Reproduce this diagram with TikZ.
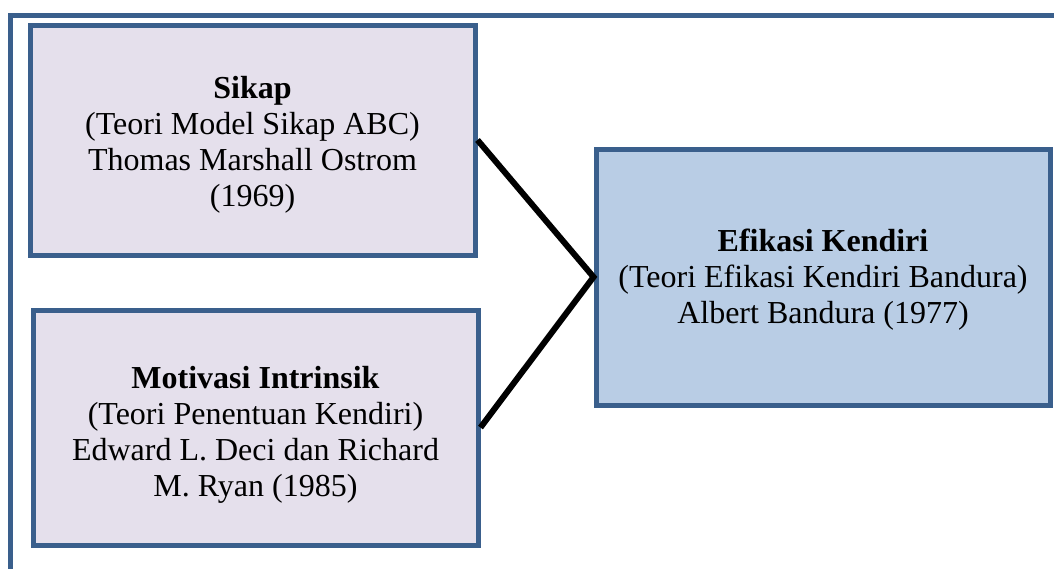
\documentclass[tikz,border=0pt]{standalone}
\usepackage{fontspec}
\setmainfont{Liberation Serif}
\definecolor{frameblue}{HTML}{3A5F8C}
\definecolor{lavender}{HTML}{E5E0EC}
\definecolor{lightblue}{HTML}{B9CDE5}
\begin{document}
\begin{tikzpicture}[x=1pt,y=-1pt,
  box/.style={draw=frameblue, line width=5pt, rectangle, inner sep=0pt},
  label/.style={align=center, inner sep=0pt, font=\fontsize{32}{36}\selectfont, text=black},
  link/.style={draw=black, line width=6pt}]
\useasboundingbox (0,0) rectangle (1054,568);
\begin{scope}
\clip (0,0) rectangle (1054,568);
\draw[frameblue, line width=5pt] (10,620) -- (10,15) -- (1100,15);
\end{scope}
\node[box, fill=lavender, minimum width=445pt, minimum height=230pt] (sikap) at (252.5,140) {};
\node[label, yshift=-5pt] (sikapt) at (sikap.center) {\textbf{Sikap}\\(Teori Model Sikap ABC)\\Thomas Marshall Ostrom\\(1969)};
\node[box, fill=lavender, minimum width=445pt, minimum height=235pt] (motivasi) at (255.5,427.5) {};
\node[label, yshift=-7pt] (motivasit) at (motivasi.center) {\textbf{Motivasi Intrinsik}\\(Teori Penentuan Kendiri)\\Edward L. Deci dan Richard\\M. Ryan (1985)};
\node[box, fill=lightblue, minimum width=454pt, minimum height=256pt] (efikasi) at (823,277) {};
\node[label, yshift=-3pt] (efikasit) at (efikasi.center) {\textbf{Efikasi Kendiri}\\(Teori Efikasi Kendiri Bandura)\\Albert Bandura (1977)};
\draw[link] (sikap.east) -- (efikasi.west) -- (motivasi.east);
\end{tikzpicture}
\end{document}
